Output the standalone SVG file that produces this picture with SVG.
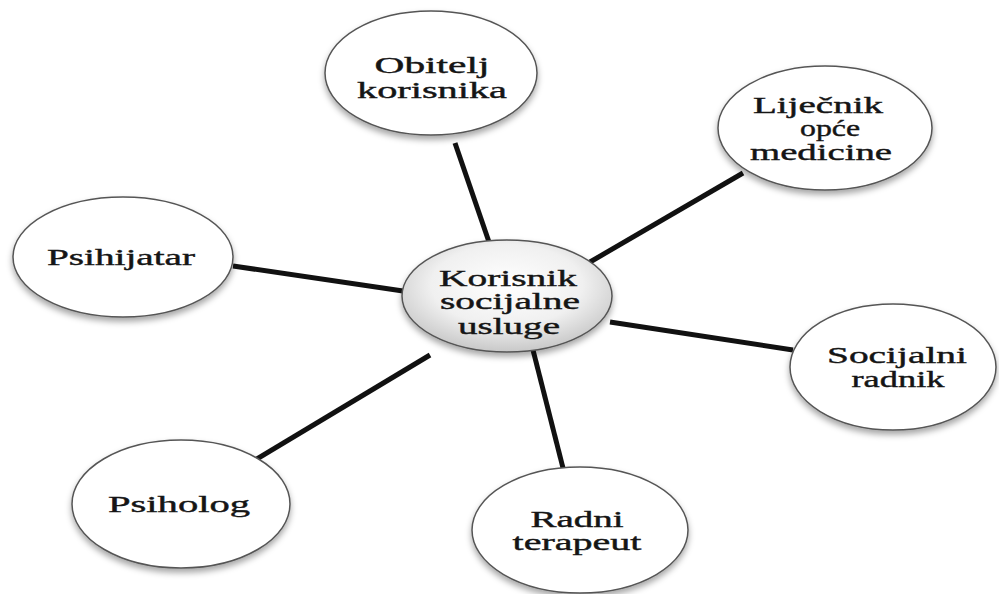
<svg xmlns="http://www.w3.org/2000/svg" width="999" height="594" viewBox="0 0 999 594">
<defs>
<radialGradient id="cg" cx="0.5" cy="0.4" r="0.6">
<stop offset="0" stop-color="#ffffff"/>
<stop offset="0.6" stop-color="#f0f0f0"/>
<stop offset="1" stop-color="#c8c8c8"/>
</radialGradient>
<filter id="sh" x="-20%" y="-20%" width="140%" height="150%">
<feDropShadow dx="0" dy="4" stdDeviation="3" flood-color="#000" flood-opacity="0.35"/>
</filter>
</defs>
<style>
.n{fill:#fff;stroke:#555;stroke-width:1.5;filter:url(#sh)}
.c{fill:url(#cg);stroke:#555;stroke-width:1.5;filter:url(#sh)}
.t{font-family:"Liberation Serif","Times New Roman",serif;font-size:23px;fill:#151515;stroke:#151515;stroke-width:0.4;text-anchor:middle}
.e line{stroke:#111;stroke-width:5;stroke-linecap:butt}
</style>
<rect width="999" height="594" fill="#fff"/>
<g id="connectors" class="e">
<line x1="455" y1="143" x2="489" y2="242"/>
<line x1="743" y1="173" x2="590" y2="262"/>
<line x1="233" y1="266" x2="403" y2="291"/>
<line x1="610" y1="322" x2="793" y2="350"/>
<line x1="255" y1="460" x2="430" y2="355"/>
<line x1="533" y1="350" x2="563" y2="468"/>
</g>
<g id="obitelj">
<ellipse class="n" cx="431" cy="73" rx="106" ry="62"/>
<text class="t" x="432" y="73" textLength="115" lengthAdjust="spacingAndGlyphs">Obitelj</text>
<text class="t" x="432" y="98" textLength="150" lengthAdjust="spacingAndGlyphs">korisnika</text>
</g>
<g id="lijecnik">
<ellipse class="n" cx="825" cy="128" rx="107" ry="62"/>
<text class="t" x="818" y="113" textLength="130" lengthAdjust="spacingAndGlyphs">Liječnik</text>
<text class="t" x="830" y="136" textLength="60" lengthAdjust="spacingAndGlyphs">opće</text>
<text class="t" x="821" y="160" textLength="142" lengthAdjust="spacingAndGlyphs">medicine</text>
</g>
<g id="psihijatar">
<ellipse class="n" cx="123" cy="257" rx="110" ry="60"/>
<text class="t" x="121" y="265" textLength="148" lengthAdjust="spacingAndGlyphs">Psihijatar</text>
</g>
<g id="socijalni">
<ellipse class="n" cx="893" cy="367" rx="103" ry="63"/>
<text class="t" x="897" y="363" textLength="140" lengthAdjust="spacingAndGlyphs">Socijalni</text>
<text class="t" x="898" y="387" textLength="93" lengthAdjust="spacingAndGlyphs">radnik</text>
</g>
<g id="psiholog">
<ellipse class="n" cx="181" cy="504" rx="109" ry="64"/>
<text class="t" x="179" y="512" textLength="142" lengthAdjust="spacingAndGlyphs">Psiholog</text>
</g>
<g id="radni">
<ellipse class="n" cx="580" cy="530" rx="108" ry="63"/>
<text class="t" x="577" y="527" textLength="93" lengthAdjust="spacingAndGlyphs">Radni</text>
<text class="t" x="577" y="550" textLength="129" lengthAdjust="spacingAndGlyphs">terapeut</text>
</g>
<g id="korisnik">
<ellipse class="c" cx="507" cy="296" rx="105" ry="56"/>
<text class="t" x="508" y="286" textLength="138" lengthAdjust="spacingAndGlyphs">Korisnik</text>
<text class="t" x="510" y="309" textLength="140" lengthAdjust="spacingAndGlyphs">socijalne</text>
<text class="t" x="509" y="334" textLength="102" lengthAdjust="spacingAndGlyphs">usluge</text>
</g>
</svg>
